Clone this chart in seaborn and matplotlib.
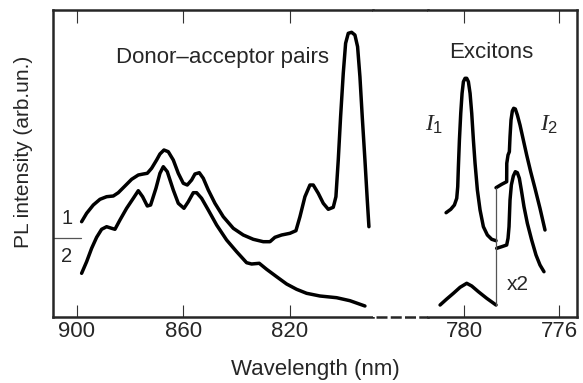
import numpy as np
import pandas as pd
import matplotlib
matplotlib.use('Agg')
import matplotlib.pyplot as plt
import seaborn as sns

sns.set_style('ticks')
plt.rcParams['font.family'] = ['Liberation Sans', 'DejaVu Sans']
plt.rcParams['mathtext.fontset'] = 'custom'
plt.rcParams['mathtext.it'] = 'Liberation Serif:italic'
plt.rcParams['mathtext.rm'] = 'Liberation Sans'

# donor-acceptor region (nm, arb.un.), spectrum 1 = upper, 2 = lower
wl_da1 = [898.25, 896.37, 893.87, 891.36, 888.86, 886.35, 884.48, 881.97, 879.47, 876.96,
          875.09, 873.58, 871.96, 870.08, 868.83, 867.32, 865.70, 863.82, 861.94, 860.06,
          858.56, 856.93, 855.68, 854.05, 852.55, 850.67, 848.17, 845.04, 841.28, 837.53,
          833.77, 830.02, 827.51, 825.63, 823.13, 820.00, 817.75, 816.24, 814.37, 812.49,
          811.24, 809.36, 807.48, 805.60, 803.73, 802.73, 801.85, 800.97, 799.97, 799.09,
          798.09, 796.84, 795.59, 794.59, 793.71, 792.84, 791.83, 790.95, 790.33]
pl_da1 = [95.3, 103.7, 112, 117.7, 120.3, 121, 124.3, 131, 137.7, 142,
          143, 143.7, 148.7, 157, 163, 167, 165.3, 157, 143.7, 133.7,
          132, 137, 143, 144.3, 138.7, 127, 113.7, 100.3, 88.7, 82,
          77.7, 75.3, 75.3, 79.7, 82, 83.7, 86.3, 100.3, 120.3, 132,
          132, 123.7, 113.7, 107.7, 109.7, 120.3, 157, 200.3, 243.7, 273.7,
          283.7, 284.7, 282, 270.3, 240.3, 200.3, 157, 117, 90.3]

wl_da2 = [898.25, 896.37, 894.49, 892.61, 890.74, 888.86, 886.98, 885.73, 883.85, 881.35,
          878.84, 876.96, 875.34, 873.58, 872.33, 870.33, 868.83, 867.57, 866.07, 863.82,
          861.94, 859.81, 858.18, 856.31, 855.05, 853.18, 850.67, 847.54, 843.79, 840.03,
          836.28, 834.40, 831.52, 828.76, 825.01, 821.25, 817.50, 813.74, 808.73, 802.47,
          797.46, 791.83]
pl_da2 = [43.7, 55.3, 68.7, 79.7, 87.7, 90.3, 88.7, 87.7, 97, 108.7,
          118.7, 126.3, 120.3, 111, 112, 128.7, 143.7, 150.3, 145.3, 127,
          113.7, 108.7, 115.3, 124.3, 124.3, 118.7, 107, 92, 77, 65.3,
          54.3, 53, 53.7, 47.7, 40.3, 33, 27.7, 23.7, 21, 19.3,
          16.3, 11]

# exciton region: I1 and I2 of spectrum 1
wl_ex1a = [780.758, 780.561, 780.407, 780.309, 780.267, 780.239, 780.196, 780.140, 780.084,
           780.028, 779.958, 779.888, 779.818, 779.747, 779.677, 779.607, 779.537, 779.439,
           779.326, 779.186, 779.018, 778.835, 778.653]
pl_ex1a = [104.3, 107.7, 112, 118.7, 130.3, 150.3, 177, 203.7, 223.7,
           235.3, 238.7, 238.7, 235.3, 223.7, 203.7, 177, 153.7, 127,
           107, 90.3, 82, 77.7, 76.3]

wl_ex1b = [778.653, 778.414, 778.204, 778.200, 778.147, 778.091, 778.063, 778.021, 777.965,
           777.909, 777.839, 777.754, 777.642, 777.502, 777.361, 777.193, 777.011, 776.800,
           776.589]
pl_ex1b = [129.3, 132.7, 135.3, 153.7, 162, 165.3, 180.3, 197, 206,
           208.7, 208, 202, 192, 177, 162, 145.3, 128.7, 108.7,
           87]

# spectrum 2: weak bump, then the x2 part
wl_ex2a = [781.011, 780.730, 780.449, 780.168, 779.888, 779.677, 779.396, 779.046, 778.653]
pl_ex2a = [12, 18, 23.7, 29.7, 33.7, 31, 25.3, 18.7, 12]

wl_ex2b = [778.625, 778.414, 778.204, 778.147, 778.105, 778.063, 778.007, 777.923, 777.839,
           777.754, 777.670, 777.586, 777.474, 777.333, 777.151, 776.968, 776.800, 776.632]
pl_ex2b = [68.7, 70.3, 72, 78.7, 90.3, 117, 132, 141, 145.3,
           144.3, 138.7, 127, 110.3, 93.7, 77, 62, 52, 45.3]

fig = plt.figure(figsize=(5.83, 3.83), dpi=100)
W, H = 583., 383.
ax_l = fig.add_axes([53 / W, 66 / H, 320 / W, 307 / H])
ax_m = fig.add_axes([373 / W, 66 / H, 55 / W, 307 / H])
ax_r = fig.add_axes([428 / W, 66 / H, 149 / W, 307 / H])

line_kw = dict(color='black', lw=2.5, sort=False, estimator=None,
               solid_capstyle='round', solid_joinstyle='round')

def draw(ax, wl, pl):
    df = pd.DataFrame({'wl': wl, 'pl': pl})
    sns.lineplot(data=df, x='wl', y='pl', ax=ax, **line_kw)

draw(ax_l, wl_da1, pl_da1)
draw(ax_l, wl_da2, pl_da2)
draw(ax_r, wl_ex1a, pl_ex1a)
draw(ax_r, wl_ex1b, pl_ex1b)
draw(ax_r, wl_ex2a, pl_ex2a)
draw(ax_r, wl_ex2b, pl_ex2b)

# thin marker of the x2 part
ax_r.plot([wl_ex2a[-1], wl_ex2a[-1]], [pl_ex2a[-1], pl_ex1b[0]], color='#555555', lw=0.9)

ax_l.set_xlim(909.0, 788.8)
ax_r.set_xlim(781.52, 775.24)
for ax in (ax_l, ax_m, ax_r):
    ax.set_ylim(0, 307)
    ax.set_yticks([])
    ax.set_xlabel('')
    ax.set_ylabel('')
    for s in ax.spines.values():
        s.set_linewidth(1.8)

ax_l.spines['right'].set_visible(False)
ax_r.spines['left'].set_visible(False)
ax_m.spines['left'].set_visible(False)
ax_m.spines['right'].set_visible(False)
ax_m.spines['bottom'].set_linestyle((4.0, (3.4, 2.3)))
ax_m.set_xticks([])

ax_l.set_xticks([900, 860, 820])
ax_r.set_xticks([780, 776])
for ax in (ax_l, ax_r):
    ax.tick_params(axis='x', direction='in', length=9, width=0.8, color='#333333',
                   top=True, labeltop=False, labelsize=16, pad=3)

# labels
ax_l.text(845.3, 259, 'Donor\u2013acceptor pairs', ha='center', va='center', fontsize=16)
ax_r.text(778.84, 265, 'Excitons', ha='center', va='center', fontsize=16)
ax_r.text(781.26, 192, r'$I_1$', ha='center', va='center', fontsize=17)
ax_r.text(776.42, 192, r'$I_2$', ha='center', va='center', fontsize=17)
ax_r.text(777.74, 32, 'x2', ha='center', va='center', fontsize=15)
ax_l.text(903.8, 99, '1', ha='center', va='center', fontsize=14.5)
ax_l.text(903.8, 61, '2', ha='center', va='center', fontsize=14.5)
ax_l.axhline(79, xmin=0, xmax=0.0875, color='#555555', lw=0.9)

fig.text(315 / W, 1 - 370 / H, 'Wavelength (nm)', ha='center', va='center', fontsize=16)
fig.text(24 / W, 1 - 152 / H, 'PL intensity (arb.un.)', rotation=90,
         ha='center', va='center', fontsize=15)

fig.savefig('out.png', dpi=100)
